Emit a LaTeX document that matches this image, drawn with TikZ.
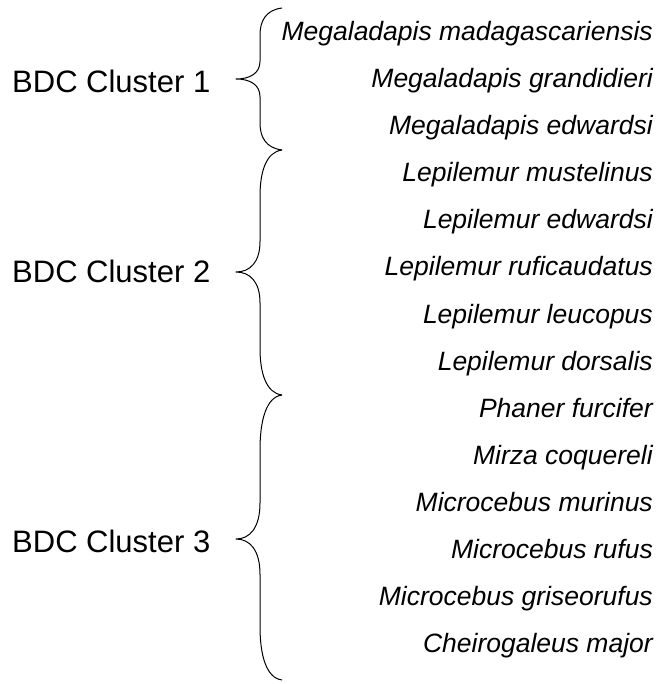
\documentclass[tikz,border=0pt]{standalone}
\usepackage{fontspec}
\setmainfont{Liberation Sans}
\usepackage{tikz}
\usetikzlibrary{positioning}
\newcommand{\clbrace}[3]{% top, tip, bottom
  \draw[brc] (282,#1) .. controls (266,{#1+2}) and (260,{#1+0.18*(#2-#1)}) .. (260,{#1+0.38*(#2-#1)})
    -- (260,{#2-0.25*(#2-#1)}) .. controls (260,{#2-0.08*(#2-#1)}) and (250,#2) .. (236,#2)
    .. controls (250,#2) and (260,{#2+0.08*(#3-#2)}) .. (260,{#2+0.25*(#3-#2)})
    -- (260,{#3-0.38*(#3-#2)}) .. controls (260,{#3-0.18*(#3-#2)}) and (266,{#3-2}) .. (282,#3);}

\begin{document}
\begin{tikzpicture}[
  x=1pt, y=-1pt,
  sp/.style={anchor=base east, inner sep=0pt, font=\fontsize{26.5}{30}\selectfont\itshape},
  cl/.style={anchor=base west, inner sep=0pt, font=\fontsize{31}{36}\selectfont},
  brc/.style={line width=1pt, line join=round}
]
\useasboundingbox (0,0) rectangle (657,684);
% species
\node[sp] (s1) at (653,41) {Megaladapis madagascariensis};
\node[sp] (s2) at (653,88) {Megaladapis grandidieri};
\node[sp] (s3) at (653,135) {Megaladapis edwardsi};
\node[sp] (s4) at (653,182) {Lepilemur mustelinus};
\node[sp] (s5) at (653,229) {Lepilemur edwardsi};
\node[sp] (s6) at (653,276) {Lepilemur ruficaudatus};
\node[sp] (s7) at (653,323) {Lepilemur leucopus};
\node[sp] (s8) at (653,370) {Lepilemur dorsalis};
\node[sp] (s9) at (653,417) {Phaner furcifer};
\node[sp] (s10) at (653,464) {Mirza coquereli};
\node[sp] (s11) at (653,511) {Microcebus murinus};
\node[sp] (s12) at (653,558) {Microcebus rufus};
\node[sp] (s13) at (653,605) {Microcebus griseorufus};
\node[sp] (s14) at (653,652) {Cheirogaleus major};
% clusters
\node[cl] (c1) at (12,93) {BDC Cluster 1};
\node[cl] (c2) at (12,282) {BDC Cluster 2};
\node[cl] (c3) at (12,552) {BDC Cluster 3};
% braces
\clbrace{8}{79}{150}
\clbrace{150}{272}{395}
\clbrace{395}{539}{680}
\end{tikzpicture}
\end{document}
